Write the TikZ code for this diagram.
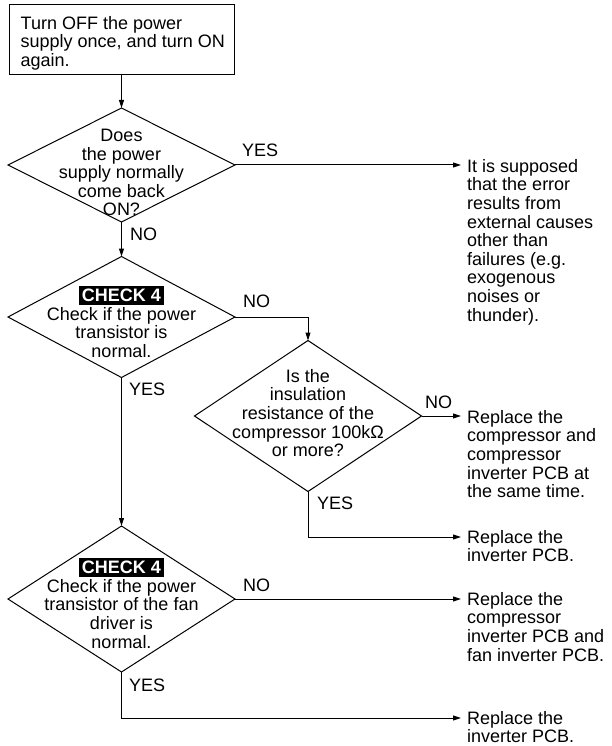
\documentclass[tikz,border=0pt]{standalone}
\usepackage{fontspec}
\setmainfont{Liberation Sans}
\usetikzlibrary{shapes.geometric,arrows.meta}
\tikzset{
  txt/.style={font=\fontsize{18}{18.6}\selectfont, inner sep=0pt},
  dia/.style={draw, shape=diamond, inner sep=0pt, outer sep=0pt, line width=1pt},
  chk/.style={fill=black, text=white, font=\fontsize{18}{18.6}\selectfont\bfseries, inner xsep=2.5pt, inner ysep=1pt, minimum height=19pt},
  res/.style={txt, align=left, anchor=north west, inner xsep=6pt},
  lbl/.style={txt, anchor=base west},
  arr/.style={line width=1pt, -{Triangle[length=8pt,width=5pt]}},
  ln/.style={line width=1pt}
}
\begin{document}
\begin{tikzpicture}[x=1pt,y=-1pt]
\useasboundingbox (0,0) rectangle (611,746);
% start box
\node[draw, line width=1pt, minimum width=225pt, minimum height=70pt, inner sep=0pt, outer sep=0pt] (box) at (121.5,40) {};
\node[txt, align=left, anchor=north west] (boxt) at (20.5,16) {Turn OFF the power\\supply once, and turn ON\\again.};
% diamond 1
\node[dia, minimum width=227pt, minimum height=114pt] (d1) at (121.5,165) {};
\node[txt, align=center, anchor=north] (d1t) at (121.5,129) {Does\\the power\\supply normally\\come back\\ON?};
% diamond 2
\node[dia, minimum width=227pt, minimum height=121pt] (d2) at (121.5,317) {};
\node[chk] (k2) at (121.5,295) {CHECK 4};
\node[txt, align=center, anchor=north] (d2t) at (121.5,307) {Check if the power\\transistor is\\normal.};
% diamond 3
\node[dia, minimum width=227pt, minimum height=151pt] (d3) at (308,416) {};
\node[txt, align=center, anchor=north] (d3t) at (308,369) {Is the\\insulation\\resistance of the\\compressor 100kΩ\\or more?};
% diamond 4
\node[dia, minimum width=227pt, minimum height=146pt] (d4) at (121.5,599) {};
\node[chk] (k4) at (121.5,567) {CHECK 4};
\node[txt, align=center, anchor=north] (d4t) at (121.5,579) {Check if the power\\transistor of the fan\\driver is\\normal.};
% results
\node[res] (r1) at (461,159) {It is supposed\\that the error\\results from\\external causes\\other than\\failures (e.g.\\exogenous\\noises or\\thunder).};
\node[res] (r2) at (461,410) {Replace the\\compressor and\\compressor\\inverter PCB at\\the same time.};
\node[res] (r3) at (461,530) {Replace the\\inverter PCB.};
\node[res] (r4) at (461,592) {Replace the\\compressor\\inverter PCB and\\fan inverter PCB.};
\node[res] (r5) at (461,711) {Replace the\\inverter PCB.};
% labels
\node[lbl] (y1) at (242,157) {YES};
\node[lbl] (n1) at (130,240) {NO};
\node[lbl] (n2) at (243,307) {NO};
\node[lbl] (y2) at (129,395) {YES};
\node[lbl] (n3) at (425,408) {NO};
\node[lbl] (y3) at (317,509) {YES};
\node[lbl] (n4) at (243,591) {NO};
\node[lbl] (y4) at (129,691) {YES};
% helper corners
\coordinate (c3) at (308,537);
\coordinate (c4) at (121.5,718);
% connectors
\draw[arr] (box.south) -- (d1.north);
\draw[arr] (d1.east) -- (d1.east -| r1.west);
\draw[arr] (d1.south) -- (d2.north);
\draw[arr] (d2.east) -- (d2.east -| d3.north) -- (d3.north);
\draw[arr] (d3.east) -- (d3.east -| r2.west);
\draw[arr] (d3.south) -- (c3) -- (c3 -| r3.west);
\draw[arr] (d2.south) -- (d4.north);
\draw[arr] (d4.east) -- (d4.east -| r4.west);
\draw[arr] (d4.south) -- (c4) -- (c4 -| r5.west);
\end{tikzpicture}
\end{document}
